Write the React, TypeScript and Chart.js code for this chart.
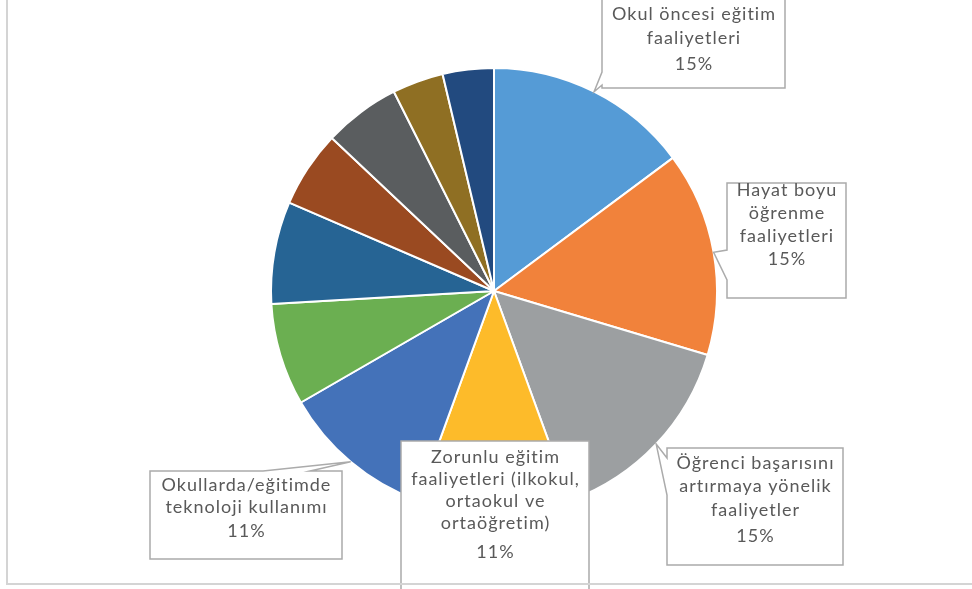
import React, { useEffect, useRef } from "react";
import { Chart, registerables } from "chart.js";

Chart.register(...registerables);

const categories = [
  "Okul öncesi eğitim faaliyetleri",
  "Hayat boyu öğrenme faaliyetleri",
  "Öğrenci başarısını artırmaya yönelik faaliyetler",
  "Zorunlu eğitim faaliyetleri (ilkokul, ortaokul ve ortaöğretim)",
  "Okullarda/eğitimde teknoloji kullanımı",
  "Diğer faaliyetler 1",
  "Diğer faaliyetler 2",
  "Diğer faaliyetler 3",
  "Diğer faaliyetler 4",
  "Diğer faaliyetler 5",
  "Diğer faaliyetler 6",
];

const values = [8, 8, 8, 6, 6, 4, 4, 3, 3, 2, 2];

const sliceColors = [
  "#559BD6",
  "#F1823B",
  "#9C9FA1",
  "#FDBB2A",
  "#4472B9",
  "#6BAF51",
  "#266494",
  "#9A4A21",
  "#5A5D5F",
  "#8F6F23",
  "#224A7F",
];

// wrapped label text for the labelled slices
const labelLines: (string[] | null)[] = [
  ["Okul öncesi eğitim", "faaliyetleri"],
  ["Hayat boyu", "öğrenme", "faaliyetleri"],
  ["Öğrenci başarısını", "artırmaya yönelik", "faaliyetler"],
  ["Zorunlu eğitim", "faaliyetleri (ilkokul,", "ortaokul ve", "ortaöğretim)"],
  ["Okullarda/eğitimde", "teknoloji kullanımı"],
  null,
  null,
  null,
  null,
  null,
  null,
];

// callout box layout (pixels)
type Layout = {
  l: number; t: number; r: number; b: number;
  y0: number; lh: number; pctGap: number;
  wedge: null | { side: "left" | "top"; a: number; b: number };
};
const calloutLayout: (Layout | null)[] = [
  { l: 602, t: -10, r: 785, b: 88, y0: 14, lh: 24, pctGap: 2, wedge: { side: "left", a: 72, b: 85 } },
  { l: 727, t: 183, r: 846, b: 298, y0: 190, lh: 23, pctGap: 0, wedge: { side: "left", a: 250, b: 280 } },
  { l: 667, t: 448, r: 843, b: 565, y0: 463, lh: 23.5, pctGap: 3, wedge: { side: "left", a: 458, b: 495 } },
  { l: 401, t: 441, r: 589, b: 620, y0: 457, lh: 22, pctGap: 7, wedge: null },
  { l: 150, t: 471, r: 342, b: 559, y0: 485, lh: 22, pctGap: 2, wedge: { side: "top", a: 263, b: 310 } },
  null, null, null, null, null, null,
];

const total = values.reduce((s, v) => s + v, 0);

const calloutPlugin = {
  id: "callouts",
  afterDatasetsDraw(chart: any) {
    const ctx: CanvasRenderingContext2D = chart.ctx;
    const meta = chart.getDatasetMeta(0);
    ctx.save();
    meta.data.forEach((arc: any, i: number) => {
      const lay = calloutLayout[i];
      const lines = labelLines[i];
      if (!lay || !lines) return;
      const p = arc.getProps(["x", "y", "startAngle", "endAngle", "outerRadius"], true);
      const mid = (p.startAngle + p.endAngle) / 2;
      const tx = p.x + Math.cos(mid) * p.outerRadius;
      const ty = p.y + Math.sin(mid) * p.outerRadius;
      ctx.beginPath();
      ctx.moveTo(lay.l, lay.t);
      if (lay.wedge && lay.wedge.side === "top") {
        ctx.lineTo(lay.wedge.a, lay.t);
        ctx.lineTo(tx, ty);
        ctx.lineTo(lay.wedge.b, lay.t);
      }
      ctx.lineTo(lay.r, lay.t);
      ctx.lineTo(lay.r, lay.b);
      ctx.lineTo(lay.l, lay.b);
      if (lay.wedge && lay.wedge.side === "left") {
        ctx.lineTo(lay.l, lay.wedge.b);
        ctx.lineTo(tx, ty);
        ctx.lineTo(lay.l, lay.wedge.a);
      }
      ctx.closePath();
      ctx.fillStyle = "#ffffff";
      ctx.fill();
      ctx.lineWidth = 1.5;
      ctx.strokeStyle = "#ababab";
      ctx.stroke();

      ctx.fillStyle = "#595959";
      ctx.font = "18px Lato";
      (ctx as any).letterSpacing = "1px";
      ctx.textAlign = "center";
      ctx.textBaseline = "middle";
      const cx = (lay.l + lay.r) / 2 + 0.5;
      lines.forEach((ln, k) => {
        ctx.fillText(ln, cx, lay.y0 + k * lay.lh);
      });
      const pct = Math.round((values[i] / total) * 100) + "%";
      ctx.fillText(pct, cx, lay.y0 + lines.length * lay.lh + lay.pctGap);
      (ctx as any).letterSpacing = "0px";
    });
    // chart frame (left and bottom edges visible)
    ctx.fillStyle = "#d4d4d4";
    ctx.fillRect(6, 0, 2, 585);
    ctx.fillRect(6, 583, chart.width - 6, 2);
    ctx.restore();
  },
};

export default function App() {
  const ref = useRef<HTMLCanvasElement | null>(null);
  useEffect(() => {
    if (!ref.current) return;
    const chart = new Chart(ref.current, {
      type: "pie",
      data: {
        labels: categories,
        datasets: [
          {
            data: values,
            backgroundColor: sliceColors,
            borderColor: "#ffffff",
            borderWidth: 2,
          },
        ],
      },
      options: {
        animation: false,
        responsive: false,
        layout: { padding: { top: 67, bottom: 74, left: 270, right: 254 } },
        plugins: {
          legend: { display: false },
          tooltip: { enabled: false },
        },
      },
      plugins: [calloutPlugin],
    });
    return () => chart.destroy();
  }, []);
  return (
    <div style={{ position: "absolute", left: 0, top: 0, width: 972, height: 589, background: "#fff" }}>
      <canvas ref={ref} width={972} height={589} style={{ display: "block" }} />
    </div>
  );
}
